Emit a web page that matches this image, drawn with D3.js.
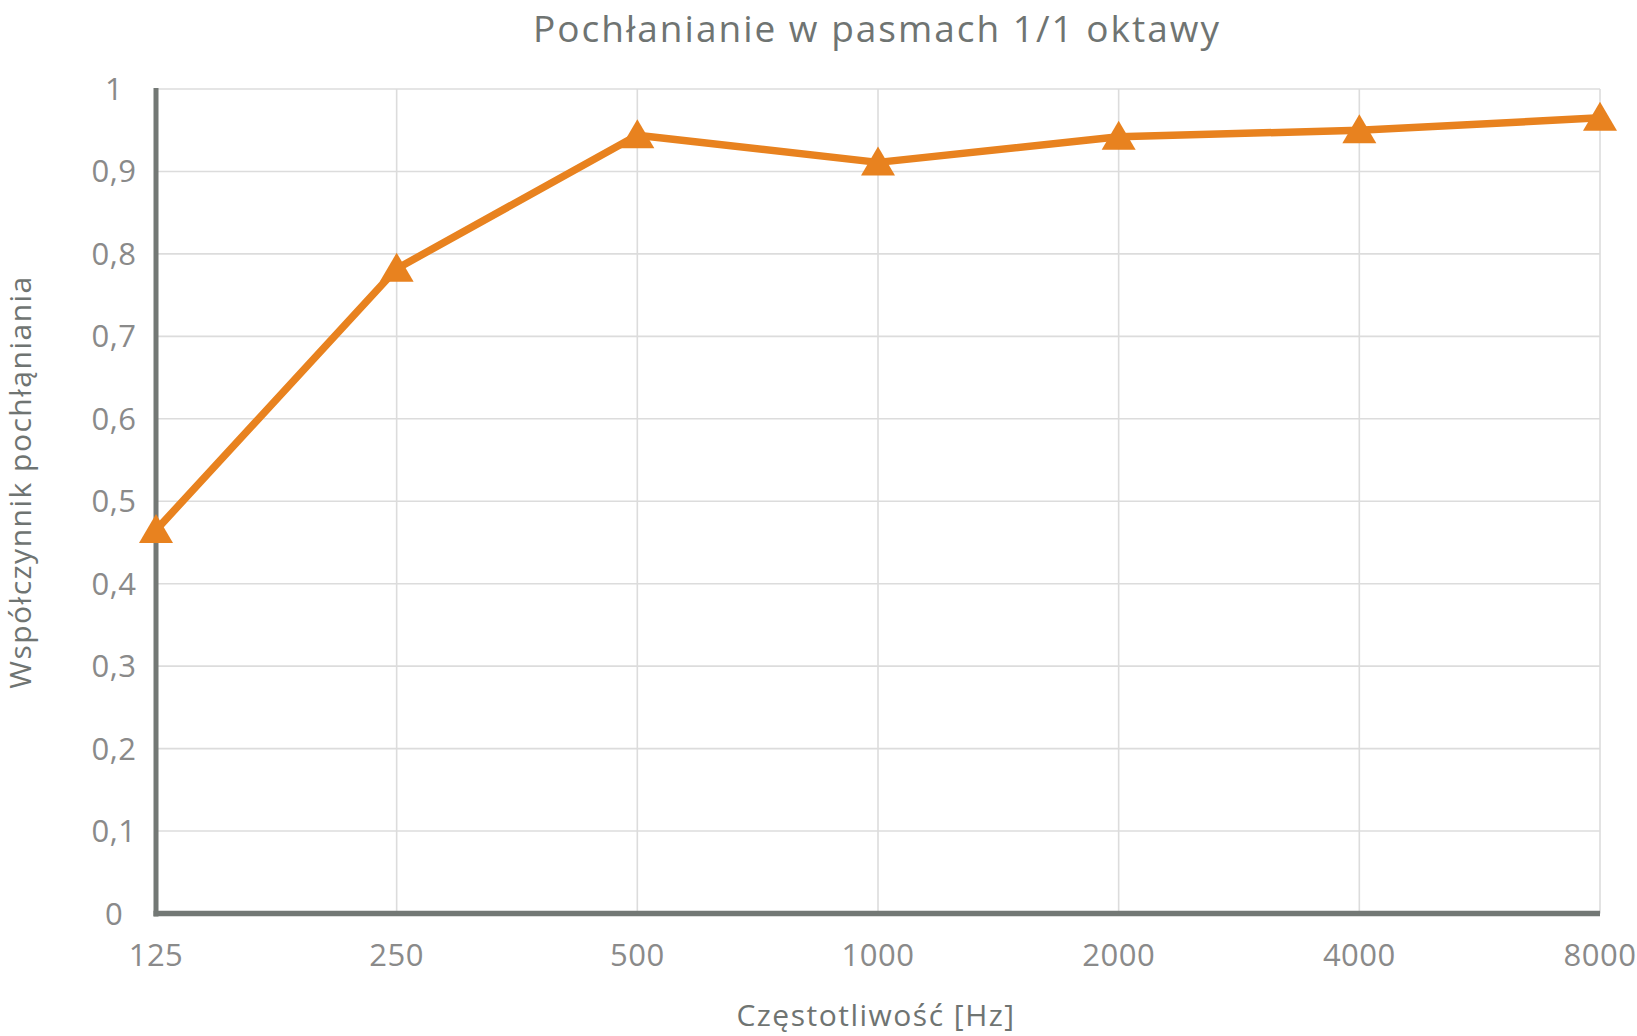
<!DOCTYPE html>
<html><head><meta charset="utf-8">
<script src="https://cdn.jsdelivr.net/npm/d3@7"></script>
<style>html,body{margin:0;padding:0;background:#fff;}svg{display:block;}</style>
</head><body>
<svg id="c" width="1637" height="1036"></svg>
<script>
const categories = ["125","250","500","1000","2000","4000","8000"];
const values = [0.465, 0.782, 0.944, 0.911, 0.942, 0.950, 0.965];
const yTicks = [0,0.1,0.2,0.3,0.4,0.5,0.6,0.7,0.8,0.9,1];
const yTickLabels = ["0","0,1","0,2","0,3","0,4","0,5","0,6","0,7","0,8","0,9","1"];
const title = "Pochłanianie w pasmach 1/1 oktawy";
const xTitle = "Częstotliwość [Hz]";
const yTitle = "Współczynnik pochłąniania";

const svg = d3.select("#c");
const L = 156, R = 1600, T = 89, B = 913.5;
const font = "'Open Sans', sans-serif";
const x = d3.scalePoint().domain(categories).range([L, R]).padding(0);
const y = d3.scaleLinear().domain([0,1]).range([B, T]);

// gridlines
svg.append("g").selectAll("line.h").data(yTicks.filter(d=>d>0)).join("line")
  .attr("x1", L).attr("x2", R).attr("y1", d=>y(d)).attr("y2", d=>y(d))
  .attr("stroke", "#dcdcdc").attr("stroke-width", 1.6);
svg.append("g").selectAll("line.v").data(categories.slice(1)).join("line")
  .attr("x1", d=>x(d)).attr("x2", d=>x(d)).attr("y1", T).attr("y2", B)
  .attr("stroke", "#dcdcdc").attr("stroke-width", 1.6);

// axes lines
svg.append("line").attr("x1", L).attr("x2", L).attr("y1", T-1).attr("y2", B+3)
  .attr("stroke", "#737875").attr("stroke-width", 5);
svg.append("line").attr("x1", L-2.5).attr("x2", R).attr("y1", B).attr("y2", B)
  .attr("stroke", "#737875").attr("stroke-width", 5.5);

// y tick labels
svg.append("g").selectAll("text").data(yTicks).join("text")
  .attr("x", 114).attr("y", d=>y(d)+11).attr("text-anchor","middle")
  .attr("font-family", font).attr("font-size", 31).attr("fill", "#8a8a8a")
  .attr("letter-spacing", 0.5)
  .text((d,i)=>yTickLabels[i]);

// x tick labels
svg.append("g").selectAll("text").data(categories).join("text")
  .attr("x", d=>x(d)).attr("y", 966).attr("text-anchor","middle")
  .attr("font-family", font).attr("font-size", 31).attr("fill", "#8a8a8a")
  .attr("letter-spacing", 0.5)
  .text(d=>d);

// title
svg.append("text").attr("x", 877).attr("y", 42).attr("text-anchor","middle")
  .attr("font-family", font).attr("font-size", 37).attr("fill", "#6f7472")
  .attr("letter-spacing", 2).text(title);
// x title
svg.append("text").attr("x", 876).attr("y", 1026).attr("text-anchor","middle")
  .attr("font-family", font).attr("font-size", 30).attr("fill", "#6f7472")
  .attr("letter-spacing", 1.5).text(xTitle);
// y title
svg.append("text").attr("transform", "translate(31,482) rotate(-90)").attr("text-anchor","middle")
  .attr("font-family", font).attr("font-size", 30).attr("fill", "#6f7472")
  .attr("letter-spacing", 1.5).text(yTitle);

// line
const line = d3.line().x((d,i)=>x(categories[i])).y(d=>y(d));
svg.append("path").datum(values).attr("d", line).attr("fill","none")
  .attr("stroke", "#e8821f").attr("stroke-width", 7.5).attr("stroke-linejoin","round");

// markers
svg.append("g").selectAll("path").data(values).join("path")
  .attr("transform", (d,i)=>`translate(${x(categories[i])},${y(d)})`)
  .attr("d", "M0,-16 L17,13 L-17,13 Z")
  .attr("fill", "#e8821f");
</script>
</body></html>
